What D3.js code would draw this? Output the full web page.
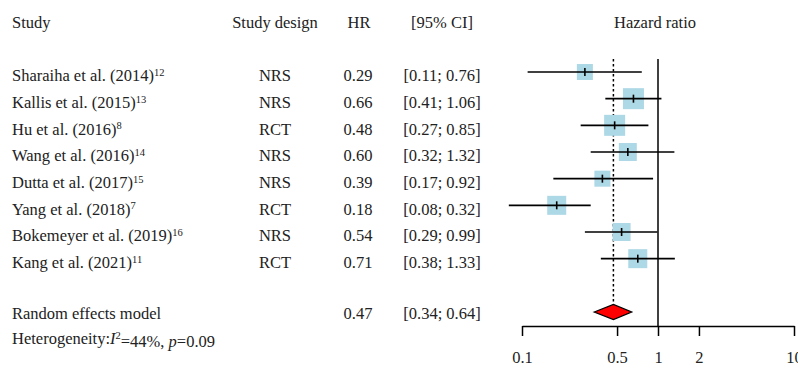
<!DOCTYPE html>
<html lang="en">
<head>
  <meta charset="UTF-8">
  <title>Forest plot - Hazard ratio</title>
  <script src="https://d3js.org/d3.v7.min.js"></script>
  <style>
    body { margin: 0; background: #fff; }
    text { font-family: "Liberation Serif", "DejaVu Serif", serif; fill: #222; }
  </style>
</head>
<body>

<div id="forest"></div>

<script>
  // Study data
  const studies = ["Sharaiha et al. (2014)", "Kallis et al. (2015)", "Hu et al. (2016)", "Wang et al. (2016)",
                   "Dutta et al. (2017)", "Yang et al. (2018)", "Bokemeyer et al. (2019)", "Kang et al. (2021)"];
  const refs = ["12", "13", "8", "14", "15", "7", "16", "11"];
  const designs = ["NRS", "NRS", "RCT", "NRS", "NRS", "RCT", "NRS", "RCT"];
  const hr = [0.29, 0.66, 0.48, 0.60, 0.39, 0.18, 0.54, 0.71];
  const lower = [0.11, 0.41, 0.27, 0.32, 0.17, 0.08, 0.29, 0.38];
  const upper = [0.76, 1.06, 0.85, 1.32, 0.92, 0.32, 0.99, 1.33];
  const weights = [9.3, 16.0, 16.0, 11.7, 9.3, 13.1, 11.7, 13.1]; // approx

  // Pooled estimate
  const pooled = { hr: 0.47, lower: 0.34, upper: 0.64 };
  const ticks = [0.1, 0.5, 1, 2, 10];

  const width = 798, height = 369;
  const fs = 16.5;

  const svg = d3.select("#forest")
    .append("svg")
    .attr("width", width)
    .attr("height", height);

  // scales
  const x = d3.scaleLog().domain([0.1, 10]).range([522, 794]);
  const y = d3.scaleLinear().domain([0, 9]).range([72, 312]); // row index -> y
  const box = d3.scaleSqrt().domain([0, 16]).range([0, 21]);

  const fmt = d3.format(".2f");
  const ci = (l, u) => `[${fmt(l)}; ${fmt(u)}]`;

  // headers
  const headY = 22;
  const head = [
    { t: "Study", x: 12, a: "start" },
    { t: "Study design", x: 275, a: "middle" },
    { t: "HR", x: 359, a: "middle" },
    { t: "[95% CI]", x: 442, a: "middle" },
    { t: "Hazard ratio", x: 655, a: "middle" }
  ];
  svg.selectAll(".head")
    .data(head)
    .enter()
    .append("text")
    .attr("class", "head")
    .attr("x", d => d.x)
    .attr("y", headY)
    .attr("dy", ".35em")
    .attr("text-anchor", d => d.a)
    .style("font-size", fs + "px")
    .text(d => d.t);

  // study rows (text)
  const rows = svg.selectAll(".row")
    .data(studies)
    .enter()
    .append("g")
    .attr("class", "row")
    .attr("transform", (d, i) => `translate(0, ${y(i) + 3.5})`);

  const name = rows.append("text")
    .attr("x", 12)
    .attr("dy", ".35em")
    .style("font-size", fs + "px");
  name.append("tspan").text(d => d);
  name.append("tspan")
    .attr("dy", "-0.5em")
    .style("font-size", "10.5px")
    .text((d, i) => refs[i]);

  rows.append("text")
    .attr("x", 275).attr("dy", ".35em").attr("text-anchor", "middle")
    .style("font-size", fs + "px")
    .text((d, i) => designs[i]);

  rows.append("text")
    .attr("x", 358).attr("dy", ".35em").attr("text-anchor", "middle")
    .style("font-size", fs + "px")
    .text((d, i) => fmt(hr[i]));

  rows.append("text")
    .attr("x", 442).attr("dy", ".35em").attr("text-anchor", "middle")
    .style("font-size", fs + "px")
    .text((d, i) => ci(lower[i], upper[i]));

  // summary row text
  const sy = y(9) + 1;
  svg.append("text").attr("x", 12).attr("y", sy).attr("dy", ".35em")
    .style("font-size", fs + "px").text("Random effects model");
  svg.append("text").attr("x", 358).attr("y", sy).attr("dy", ".35em").attr("text-anchor", "middle")
    .style("font-size", fs + "px").text(fmt(pooled.hr));
  svg.append("text").attr("x", 442).attr("y", sy).attr("dy", ".35em").attr("text-anchor", "middle")
    .style("font-size", fs + "px").text(ci(pooled.lower, pooled.upper));

  const het = svg.append("text").attr("x", 12).attr("y", sy + 25).attr("dy", ".35em")
    .style("font-size", fs + "px");
  het.append("tspan").text("Heterogeneity:");
  het.append("tspan").style("font-style", "italic").text("I");
  het.append("tspan").attr("dy", "-0.5em").style("font-size", "10.5px").text("2");
  het.append("tspan").attr("dy", "0.5em").text("=44%, ");
  het.append("tspan").style("font-style", "italic").text("p");
  het.append("tspan").text("=0.09");

  // plot area
  const axisY = 326;
  const topY = 59;

  // line of no effect
  svg.append("line")
    .attr("x1", x(1)).attr("x2", x(1))
    .attr("y1", topY).attr("y2", axisY)
    .attr("stroke", "#000").attr("stroke-width", 1.5);

  // pooled estimate dotted line
  svg.append("line")
    .attr("x1", x(pooled.hr)).attr("x2", x(pooled.hr))
    .attr("y1", topY).attr("y2", y(9) - 7.5)
    .attr("stroke", "#000").attr("stroke-width", 1.5)
    .attr("stroke-dasharray", "2.5,2.5");

  // boxes
  const marks = svg.selectAll(".mark")
    .data(hr)
    .enter()
    .append("g")
    .attr("class", "mark");

  marks.append("rect")
    .attr("x", (d, i) => x(d) - box(weights[i]) / 2)
    .attr("y", (d, i) => y(i) - box(weights[i]) / 2)
    .attr("width", (d, i) => box(weights[i]))
    .attr("height", (d, i) => box(weights[i]))
    .attr("fill", "#add8e6");

  marks.append("line")
    .attr("x1", (d, i) => x(lower[i]))
    .attr("x2", (d, i) => x(upper[i]))
    .attr("y1", (d, i) => y(i))
    .attr("y2", (d, i) => y(i))
    .attr("stroke", "#000").attr("stroke-width", 1.6);

  marks.append("line")
    .attr("x1", d => x(d)).attr("x2", d => x(d))
    .attr("y1", (d, i) => y(i) - 4)
    .attr("y2", (d, i) => y(i) + 4)
    .attr("stroke", "#000").attr("stroke-width", 1.6);

  // diamond
  const dy = y(9);
  svg.append("path")
    .attr("d", `M${x(pooled.lower)},${dy} L${x(pooled.hr)},${dy - 7.5} L${x(pooled.upper)},${dy} L${x(pooled.hr)},${dy + 7.5} Z`)
    .attr("fill", "#ff0000")
    .attr("stroke", "#000")
    .attr("stroke-width", 1.3);

  // axis
  const axis = d3.axisBottom(x)
    .tickValues(ticks)
    .tickFormat(d => d)
    .tickSize(10)
    .tickSizeOuter(0)
    .tickPadding(15);

  const gx = svg.append("g")
    .attr("transform", `translate(0, ${axisY})`)
    .call(axis);
  gx.select(".domain").attr("stroke", "#000").attr("stroke-width", 1.5);
  gx.selectAll(".tick line").attr("stroke", "#000").attr("stroke-width", 1.5);
  gx.selectAll(".tick text")
    .style("font-family", "'Liberation Serif', serif")
    .style("font-size", fs + "px")
    .attr("fill", "#222");
</script>

</body>
</html>
